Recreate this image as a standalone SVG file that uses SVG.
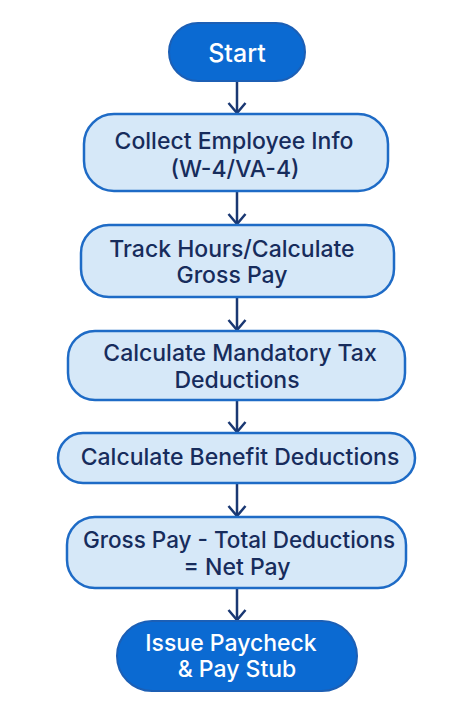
<svg xmlns="http://www.w3.org/2000/svg" width="474" height="711" viewBox="0 0 474 711">
<defs>
<style>
.term{fill:#0b6ad2;stroke:#1c5fb5;stroke-width:2}
.proc{fill:#d6e8f8;stroke:#1e6bc6;stroke-width:2.5}
.tl{font-family:Inter,"Liberation Sans",Arial,sans-serif;font-size:23px;font-weight:500;text-anchor:middle}
.tw{fill:#ffffff}
.td{fill:#172c5c}
.conn{stroke:#1a3873;stroke-width:2.5;fill:none}
</style>
<marker id="ah" viewBox="-1 -10 13 20" markerWidth="13" markerHeight="20" refX="10" refY="0" orient="auto" markerUnits="userSpaceOnUse">
<path d="M0,-8.5 L10,0 L0,8.5" fill="none" stroke="#1a3873" stroke-width="2.5" stroke-linejoin="miter"/>
</marker>
</defs>
<rect width="474" height="711" fill="#ffffff"/>
<g id="connectors">
<line class="conn" x1="237" y1="81" x2="237" y2="113" marker-end="url(#ah)"/>
<line class="conn" x1="237" y1="191" x2="237" y2="224" marker-end="url(#ah)"/>
<line class="conn" x1="237" y1="297" x2="237" y2="330" marker-end="url(#ah)"/>
<line class="conn" x1="237" y1="400" x2="237" y2="432" marker-end="url(#ah)"/>
<line class="conn" x1="237" y1="483" x2="237" y2="516" marker-end="url(#ah)"/>
<line class="conn" x1="237" y1="588" x2="237" y2="620" marker-end="url(#ah)"/>
</g>
<g id="start">
<rect class="term" x="169" y="23" width="136" height="58" rx="29"/>
<text class="tl tw" x="237" y="62" style="font-size:25px">Start</text>
</g>
<g id="collect">
<rect class="proc" x="84" y="114" width="304" height="77" rx="30"/>
<text class="tl td" x="234" y="149">Collect Employee Info</text>
<text class="tl td" x="235" y="177">(W-4/VA-4)</text>
</g>
<g id="track">
<rect class="proc" x="81" y="225" width="313" height="72" rx="28"/>
<text class="tl td" x="232" y="257">Track Hours/Calculate</text>
<text class="tl td" x="232" y="283">Gross Pay</text>
</g>
<g id="tax">
<rect class="proc" x="68" y="331" width="337" height="69" rx="27"/>
<text class="tl td" x="240" y="361">Calculate Mandatory Tax</text>
<text class="tl td" x="237" y="388">Deductions</text>
</g>
<g id="benefit">
<rect class="proc" x="58" y="433" width="357" height="50" rx="25"/>
<text class="tl td" x="240" y="465">Calculate Benefit Deductions</text>
</g>
<g id="net">
<rect class="proc" x="67" y="517" width="339" height="71" rx="28"/>
<text class="tl td" x="239" y="548" style="font-size:22.5px">Gross Pay - Total Deductions</text>
<text class="tl td" x="237" y="575">= Net Pay</text>
</g>
<g id="issue">
<rect class="term" x="117" y="621" width="240" height="70" rx="35"/>
<text class="tl tw" x="231" y="651">Issue Paycheck</text>
<text class="tl tw" x="237" y="677">&amp; Pay Stub</text>
</g>
</svg>
